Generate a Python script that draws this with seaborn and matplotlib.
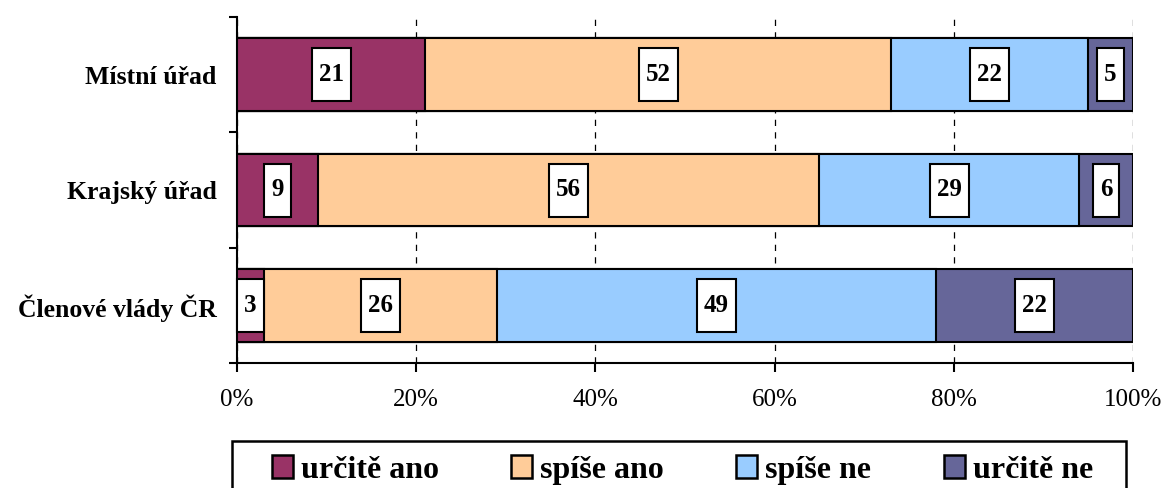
import matplotlib
matplotlib.use('Agg')
import matplotlib.pyplot as plt
import seaborn as sns
import pandas as pd
import numpy as np
from matplotlib.patches import Patch, Rectangle
from matplotlib.path import Path

categories = ['Místní úřad', 'Krajský úřad', 'Členové vlády ČR']
series = ['určitě ano', 'spíše ano', 'spíše ne', 'určitě ne']
urcite_ano = [21, 9, 3]
spise_ano = [52, 56, 26]
spise_ne = [22, 29, 49]
urcite_ne = [5, 6, 22]
colors = ['#993366', '#FFCC99', '#99CCFF', '#666699']

sns.set_theme(style='white')
plt.rcParams['font.family'] = ['Liberation Serif', 'DejaVu Serif']
plt.rcParams['text.color'] = 'black'
plt.rcParams['xtick.color'] = 'black'
plt.rcParams['ytick.color'] = 'black'
plt.rcParams['axes.labelcolor'] = 'black'


def tall_box(x0, y0, width, height, mutation_size):
    # label box like Excel: narrow sides, taller top/bottom padding
    px = 0.28 * mutation_size
    py = 0.6 * mutation_size
    x0, y0 = x0 - px, y0 - py
    x1, y1 = x0 + width + 2 * px, y0 + height + 2 * py
    return Path([(x0, y0), (x1, y0), (x1, y1), (x0, y1), (x0, y0)], closed=True)


values = np.array([urcite_ano, spise_ano, spise_ne, urcite_ne], dtype=float)
cum = values.cumsum(axis=0)

fig = plt.figure(figsize=(11.63, 4.88), dpi=100)
ax = fig.add_axes([237 / 1163, 1 - 363 / 488, (1133 - 237) / 1163, 346 / 488])

# draw from the widest cumulative bar down so each segment overlaps the next
for i in range(len(series) - 1, -1, -1):
    df = pd.DataFrame({'kategorie': categories, 'hodnota': cum[i]})
    sns.barplot(data=df, x='hodnota', y='kategorie', orient='h', color=colors[i],
                saturation=1, width=0.63, edgecolor='black', linewidth=1.5, ax=ax, zorder=3)

for i in range(len(series)):
    left = cum[i] - values[i]
    for j, cat in enumerate(categories):
        ax.text(left[j] + values[i][j] / 2, j, f'{int(values[i][j])}', ha='center', va='center',
                fontsize=18, fontweight='bold', zorder=5,
                bbox=dict(boxstyle=tall_box, facecolor='white', edgecolor='black', linewidth=1.5))

ax.set_xlim(0, 100)
ax.set_ylim(2.5, -0.5)
ax.set_xticks([0, 20, 40, 60, 80, 100])
ax.set_xticklabels(['0%', '20%', '40%', '60%', '80%', '100%'], fontsize=18)
ax.set_xlabel('')
ax.set_ylabel('')
ax.set_yticks([0, 1, 2])
ax.set_yticklabels(categories, fontsize=18.5, fontweight='bold')
ax.tick_params(axis='y', length=0, pad=14.5)
ax.set_yticks([-0.5, 0.5, 1.5, 2.5], minor=True)
ax.tick_params(axis='y', which='minor', length=6, width=1.5, color='black', direction='out', left=True)
ax.tick_params(axis='x', length=6.5, width=1.5, color='black', direction='out', bottom=True, pad=12)
ax.xaxis.grid(True, linestyle=(0, (5, 5)), color='black', linewidth=0.9, zorder=0)
ax.yaxis.grid(False)
ax.set_axisbelow(True)
for s in ['top', 'right']:
    ax.spines[s].set_visible(False)
for s in ['left', 'bottom']:
    ax.spines[s].set_color('black')
    ax.spines[s].set_linewidth(1.5)

handles = [Patch(facecolor=c, edgecolor='black', linewidth=1.8) for c in colors]
leg = fig.legend(handles, series, loc='upper left', ncol=4, mode='expand',
                 bbox_to_anchor=(272 / 1163, 0.0, (1093 - 272) / 1163, 1 - 455 / 488),
                 frameon=False, borderpad=0, borderaxespad=0,
                 handlelength=0.66, handleheight=0.72, handletextpad=0.25,
                 prop={'family': 'Liberation Serif', 'weight': 'bold', 'size': 23})

# legend frame box, running off the bottom edge as in the original
fig.patches.append(Rectangle((232 / 1163, -0.05), (1126 - 232) / 1163, 0.05 + 1 - 441 / 488,
                             transform=fig.transFigure, fill=False, edgecolor='black',
                             linewidth=1.8, clip_on=False))

fig.savefig('out.png', dpi=100)
